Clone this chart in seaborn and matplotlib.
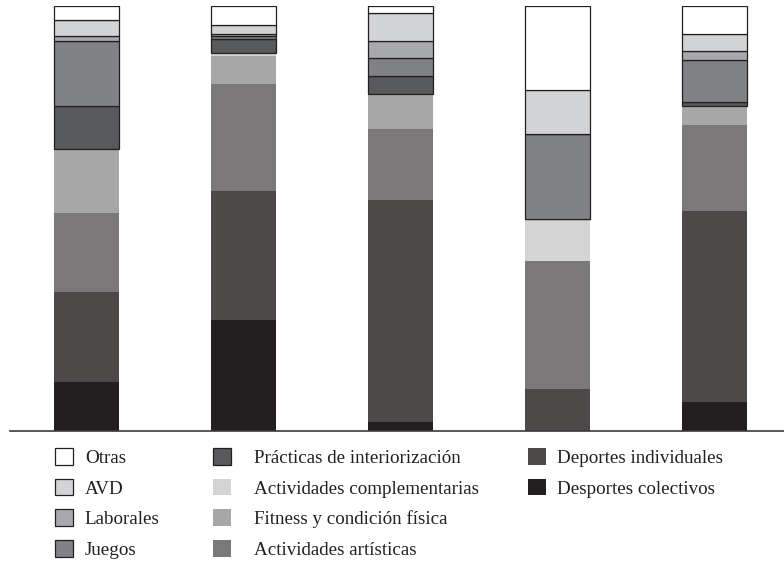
import numpy as np
import pandas as pd
import matplotlib
matplotlib.use("Agg")
import matplotlib.pyplot as plt
from matplotlib.patches import Patch
import seaborn as sns

sns.set_style("white")
plt.rcParams["font.family"] = ["Liberation Serif", "DejaVu Serif"]

# five groups (no labels shown in the chart)
grupos = ["G1", "G2", "G3", "G4", "G5"]

# percentages per category, bottom of the stack first
desportes_colectivos = [11.5, 26.1, 2.2, 0.0, 6.9]
deportes_individuales = [21.2, 30.4, 52.2, 9.9, 44.9]
act_artisticas = [18.6, 25.2, 16.7, 30.1, 20.2]
fitness = [15.1, 6.6, 8.2, 0.0, 4.5]
act_complementarias = [0.0, 0.7, 0.0, 10.0, 0.0]
practicas = [10.1, 3.3, 4.3, 0.0, 0.8]
juegos = [15.3, 0.7, 4.2, 20.0, 9.9]
laborales = [1.2, 0.5, 3.9, 0.0, 2.1]
avd = [3.8, 2.1, 6.7, 10.2, 4.2]
otras = [3.3, 4.5, 1.7, 19.8, 6.5]

series = [
    ("Desportes colectivos", desportes_colectivos, "#231f20", False),
    ("Deportes individuales", deportes_individuales, "#4d4949", False),
    ("Actividades artísticas", act_artisticas, "#7a7878", False),
    ("Fitness y condición física", fitness, "#a8a7a7", False),
    ("Actividades complementarias", act_complementarias, "#d4d4d4", False),
    ("Prácticas de interiorización", practicas, "#58595b", True),
    ("Juegos", juegos, "#808285", True),
    ("Laborales", laborales, "#a7a9ac", True),
    ("AVD", avd, "#d1d3d4", True),
    ("Otras", otras, "#ffffff", True),
]

fig = plt.figure(figsize=(7.84, 5.61), dpi=100)
ax = fig.add_axes([10 / 784, 1 - 431 / 561, 774 / 784, 425 / 561])

bottom = np.zeros(len(grupos))
for name, vals, color, edged in series:
    df = pd.DataFrame({"grupo": grupos, "valor": vals})
    sns.barplot(data=df, x="grupo", y="valor", order=grupos, color=color,
                width=0.414, bottom=bottom, ax=ax, saturation=1,
                edgecolor="#231f20" if edged else "none",
                linewidth=0.9 if edged else 0)
    bottom = bottom + np.array(vals)

ax.set_xlim(-0.487, -0.487 + 774 / 157)
ax.set_ylim(0, 100)
ax.set_xticks([])
ax.set_yticks([])
ax.set_xlabel("")
ax.set_ylabel("")
for s in ["top", "left", "right"]:
    ax.spines[s].set_visible(False)
ax.spines["bottom"].set_color("#3a3a3a")
ax.spines["bottom"].set_linewidth(1.2)

# legend: three columns placed separately
by_name = {n: (c, e) for n, v, c, e in series}
columnas = [
    (["Otras", "AVD", "Laborales", "Juegos"], 55, 0.6),
    (["Prácticas de interiorización", "Actividades complementarias",
      "Fitness y condición física", "Actividades artísticas"], 213, 1.2),
    (["Deportes individuales", "Desportes colectivos"], 528, 0.55),
]
for nombres, x0, pad in columnas:
    handles = []
    for n in nombres:
        c, e = by_name[n]
        handles.append(Patch(facecolor=c, edgecolor="#231f20" if e else "none",
                             linewidth=0.9 if e else 0, label=n))
    fig.legend(handles=handles, loc="upper left",
               bbox_to_anchor=(x0 / 784, 1 - 448 / 561), frameon=False,
               fontsize=13.7, handlelength=0.97, handleheight=0.97,
               handletextpad=pad, labelspacing=0.62,
               borderpad=0, borderaxespad=0, labelcolor="#231f20")

fig.savefig("out.png", dpi=100)
